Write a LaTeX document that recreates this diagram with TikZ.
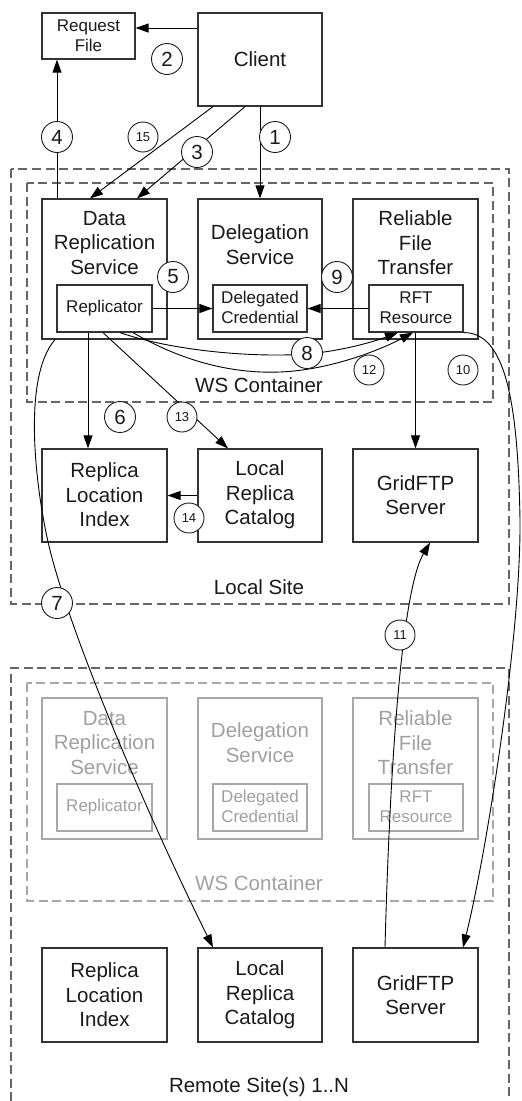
\documentclass[tikz,border=0pt]{standalone}
\usepackage{fontspec}
\setmainfont{Liberation Sans}
\usetikzlibrary{arrows.meta,calc}
\definecolor{txt}{HTML}{1A1A1A}
\definecolor{boxc}{HTML}{333333}
\definecolor{dashc}{HTML}{666666}
\definecolor{gbox}{HTML}{A8A8A8}
\definecolor{gtxt}{HTML}{A0A0A0}
\begin{document}
\begin{tikzpicture}[x=1pt,y=-1pt,
  box/.style={draw=boxc,line width=1.2pt,inner sep=0pt},
  gbox/.style={draw=gbox,line width=1.2pt,inner sep=0pt},
  big/.style={font=\fontsize{20.5}{24.5}\selectfont,align=center,text=txt,inner sep=0pt},
  small/.style={font=\fontsize{17}{20}\selectfont,align=center,text=txt,inner sep=0pt},
  gbig/.style={big,text=gtxt},
  gsmall/.style={small,text=gtxt},
  num/.style={circle,draw=txt,fill=white,line width=0.9pt,minimum size=31pt,inner sep=0pt,font=\fontsize{20.5}{24}\selectfont,text=txt},
  snum/.style={num,minimum size=30pt,font=\fontsize{13}{15}\selectfont},
  arr/.style={draw=black,line width=0.9pt,-{Triangle[length=13pt,width=9pt]}},
  site/.style={draw=dashc,line width=1.5pt,dash pattern=on 9pt off 4.5pt},
  gsite/.style={draw=gbox,line width=1.5pt,dash pattern=on 9pt off 4.5pt}
]
\useasboundingbox (0,0) rectangle (522,1101);

% ---------- top ----------
\node[box,minimum width=93pt,minimum height=46pt] (reqfile) at (88.5,36) {};
\node[small] (reqfilet) at (88.5,36) {Request\\File};
\node[box,minimum width=124pt,minimum height=93pt] (client) at (260,59.5) {};
\node[big] (clientt) at (260,59.5) {Client};

% ---------- local site ----------
\draw[site] (11,169) rectangle (509,604);
\draw[site] (27,183) rectangle (493,402);
\node[big] (wsc) at (259,385) {WS Container};
\node[big] (lsite) at (259,587) {Local Site};

\node[box,minimum width=125pt,minimum height=140pt] (drs) at (104.5,269) {};
\node[big] (drst) at (104.5,243) {Data\\Replication\\Service};
\node[box,minimum width=124pt,minimum height=140pt] (dls) at (260,269) {};
\node[big] (dlst) at (260,244.5) {Delegation\\Service};
\node[box,minimum width=125pt,minimum height=140pt] (rft) at (415.5,269) {};
\node[big] (rftt) at (415.5,243) {Reliable\\File\\Transfer};

\node[box,minimum width=95pt,minimum height=47pt] (replicator) at (104.5,308.5) {};
\node[small] (replicatort) at (104.5,308.5) {Replicator};
\node[box,minimum width=94pt,minimum height=47pt] (delcred) at (260,308.5) {};
\node[small] (delcredt) at (260,307.5) {Delegated\\Credential};
\node[box,minimum width=94pt,minimum height=47pt] (rftres) at (416,308.5) {};
\node[small] (rftrest) at (416,307.5) {RFT\\Resource};

\node[box,minimum width=125pt,minimum height=93pt] (rli) at (104.5,495.5) {};
\node[big] (rlit) at (104.5,495) {Replica\\Location\\Index};
\node[box,minimum width=124pt,minimum height=93pt] (lrc) at (260,495.5) {};
\node[big] (lrct) at (260,495) {Local\\Replica\\Catalog};
\node[box,minimum width=125pt,minimum height=93pt] (gftp) at (415.5,495.5) {};
\node[big] (gftpt) at (415.5,495) {GridFTP\\Server};

% ---------- remote site ----------
\draw[site] (11,1101) -- (11,668) -- (509,668) -- (509,1101);
\draw[gsite] (27,683) rectangle (493,901);
\node[gbig] (wscR) at (259,883) {WS Container};
\node[big] (rsite) at (259,1087) {Remote Site(s) 1..N};

\node[gbox,minimum width=125pt,minimum height=141pt] (drsR) at (104.5,768.5) {};
\node[gbig] (drsRt) at (104.5,743) {Data\\Replication\\Service};
\node[gbox,minimum width=124pt,minimum height=141pt] (dlsR) at (260,768.5) {};
\node[gbig] (dlsRt) at (260,742.5) {Delegation\\Service};
\node[gbox,minimum width=125pt,minimum height=141pt] (rftR) at (415.5,768.5) {};
\node[gbig] (rftRt) at (415.5,743) {Reliable\\File\\Transfer};

\node[gbox,minimum width=95pt,minimum height=47pt] (replicatorR) at (104.5,807.5) {};
\node[gsmall] (replicatorRt) at (104.5,807.5) {Replicator};
\node[gbox,minimum width=94pt,minimum height=47pt] (delcredR) at (260,807.5) {};
\node[gsmall] (delcredRt) at (260,806.5) {Delegated\\Credential};
\node[gbox,minimum width=94pt,minimum height=47pt] (rftresR) at (416,807.5) {};
\node[gsmall] (rftresRt) at (416,806.5) {RFT\\Resource};

\node[box,minimum width=125pt,minimum height=94pt] (rliR) at (104.5,995) {};
\node[big] (rliRt) at (104.5,995) {Replica\\Location\\Index};
\node[box,minimum width=124pt,minimum height=94pt] (lrcR) at (260,995) {};
\node[big] (lrcRt) at (260,995) {Local\\Replica\\Catalog};
\node[box,minimum width=125pt,minimum height=94pt] (gftpR) at (415.5,995) {};
\node[big] (gftpRt) at (415.5,995) {GridFTP\\Server};

% ---------- connectors ----------
\draw[arr] (client.south) -- (dls.north);
\draw[arr] ([yshift=31.5pt]client.west) -- ([yshift=31.5pt]client.west -| reqfile.east);
\draw[arr] ([xshift=-15pt]client.south) -- ([xshift=32.5pt]drs.north);
\draw[arr] ([xshift=-47pt]client.south) -- ([xshift=-14.5pt]drs.north);
\draw[arr] ([xshift=-47.5pt]drs.north) -- ([xshift=-47.5pt]drs.north |- reqfile.south);
\draw[arr] (replicator.east) -- (delcred.west);
\draw[arr] (rftres.west) -- (delcred.east);
\draw[arr] ([xshift=-16.5pt]replicator.south) -- ([xshift=-16.5pt]replicator.south |- rli.north);
\draw[arr] ([xshift=-1.5pt]replicator.south) -- ([xshift=-32pt]lrc.north);
\draw[arr] (lrc.west) -- (rli.east);
\draw[arr] (rftres.south -| gftp.north) -- (gftp.north);
\draw[arr] ([xshift=15.5pt]replicator.south) .. controls (170,350) and (250,358) .. (307,354)
   .. controls (340,351) and (370,343) .. ([xshift=-18pt]rftres.south);
\draw[arr] ([xshift=28.5pt]replicator.south) .. controls (180,360) and (230,374) .. (280,372)
   .. controls (330,370) and (380,350) .. ([xshift=-3pt]rftres.south);
\draw[arr] ([xshift=-49.5pt]drs.south) .. controls (20,380) and (37.5,500) .. (50,550)
   .. controls (75,650) and (158,837) .. ([xshift=-47pt]lrcR.north);
\draw[arr] (rftres.south east) .. controls (505,332) and (518,400) .. (520,520)
   .. controls (521,640) and (485,860) .. ([xshift=47.5pt]gftpR.north);
\draw[arr] ([xshift=-30.5pt]gftpR.north) .. controls (390,760) and (402,590) .. ([xshift=14.5pt]gftp.south);

% ---------- step numbers ----------
\node[num] (n1) at (275,137) {1};
\node[num] (n2) at (167,59) {2};
\node[num] (n3) at (197,152) {3};
\node[num] (n4) at (57,137) {4};
\node[snum] (n15) at (143,137) {15};
\node[num] (n5) at (173,277) {5};
\node[num] (n9) at (337,277) {9};
\node[num] (n8) at (307,353) {8};
\node[snum] (n12) at (369,370) {12};
\node[snum] (n10) at (463,370) {10};
\node[num] (n6) at (120,417) {6};
\node[snum] (n13) at (182,417) {13};
\node[snum] (n14) at (189,518) {14};
\node[num] (n7) at (57,603) {7};
\node[snum] (n11) at (400,635) {11};
\end{tikzpicture}
\end{document}
